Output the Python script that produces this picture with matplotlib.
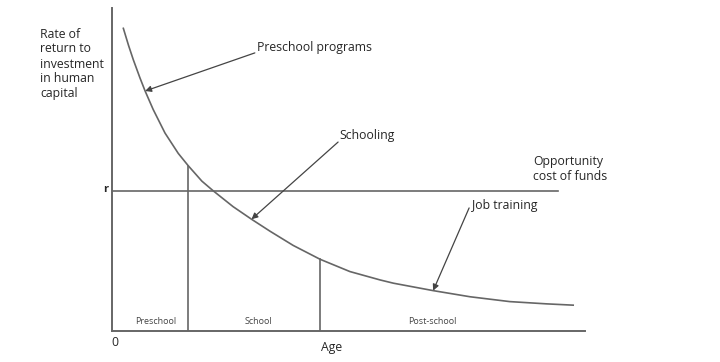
import matplotlib
matplotlib.use("Agg")
import matplotlib.pyplot as plt
from matplotlib.transforms import blended_transform_factory

# ---- data ----
age = [2.4, 3.5, 4.5, 5.9, 7.0, 8.7, 11.2, 14.0, 16.1, 19.0, 21.4, 25.6, 29.5, 33.4,
       38.3, 44.0, 50.3, 56.7, 59.5, 67.9, 75.7, 84.1, 91.9, 97.5]
rate = [93.7, 88.4, 84.0, 78.4, 74.3, 68.6, 61.3, 55.0, 51.2, 46.4, 43.4, 38.5, 34.6, 30.9,
        26.5, 22.2, 18.4, 15.8, 14.8, 12.5, 10.6, 9.1, 8.4, 8.0]
r_level = 43.4
r_line_end = 94.3
boundaries = [16.1, 44.0]
boundary_tops = [51.2, 22.2]
period_labels = ["Preschool", "School", "Post-school"]
period_x = [9.3, 30.9, 67.8]
arrow_labels = ["Preschool programs", "Schooling", "Job training"]
arrow_heads = [(7.0, 74.3), (29.5, 34.6), (67.9, 12.5)]
arrow_tails = [(30.2, 86.1), (47.8, 58.5), (75.5, 38.1)]
label_pos = [(30.7, 87.9), (48.0, 60.4), (76.1, 38.7)]

plt.rcParams['font.family'] = ['Open Sans', 'DejaVu Sans']
line_c = "#666666"
text_c = "#262626"

fig = plt.figure(figsize=(7.2, 3.62), dpi=100)
ax = fig.add_axes([112/720, 31/362, 473/720, 323/362])
ax.set_xlim(0, 100)
ax.set_ylim(0, 100)
for s in ["top", "right"]:
    ax.spines[s].set_visible(False)
for s in ["left", "bottom"]:
    ax.spines[s].set_color(line_c)
    ax.spines[s].set_linewidth(1.4)
ax.set_xticks([])
ax.set_yticks([])

ax.plot(age, rate, color=line_c, lw=1.2, solid_joinstyle="round")
ax.plot([0, r_line_end], [r_level, r_level], color=line_c, lw=1.2)
for bx, bt in zip(boundaries, boundary_tops):
    ax.plot([bx, bx], [0, bt], color=line_c, lw=1.2)

for lab, px in zip(period_labels, period_x):
    ax.text(px, 3.0, lab, ha="center", va="center", fontsize=6.5, color="#444444")

for lab, head, tail, pos in zip(arrow_labels, arrow_heads, arrow_tails, label_pos):
    ax.annotate("", xy=head, xytext=tail,
                arrowprops=dict(arrowstyle="-|>", color="#444444", lw=0.9,
                                mutation_scale=9, shrinkA=0, shrinkB=0))
    ax.text(pos[0], pos[1], lab, ha="left", va="center", fontsize=8.8, color=text_c)

ax.text(89.0, 50.0, "Opportunity\ncost of funds", ha="left", va="center",
        fontsize=8.8, color=text_c, linespacing=1.2)

tr = blended_transform_factory(ax.transAxes, ax.transData)
ax.text(-0.013, r_level + 0.5, "r", transform=tr, ha="center", va="center",
        fontsize=8, fontweight="bold", color=text_c)
ax.text(0.7, -3.6, "0", ha="center", va="center", fontsize=8.8, color=text_c, clip_on=False)
ax.text(46.5, -5.0, "Age", ha="center", va="center", fontsize=8.8, color=text_c, clip_on=False)

fig.text(40/720, 1 - 64/362, "Rate of\nreturn to\ninvestment\nin human\ncapital",
         ha="left", va="center", fontsize=8.8, color=text_c, linespacing=1.2)

fig.savefig("out.png", dpi=100, facecolor="white")
